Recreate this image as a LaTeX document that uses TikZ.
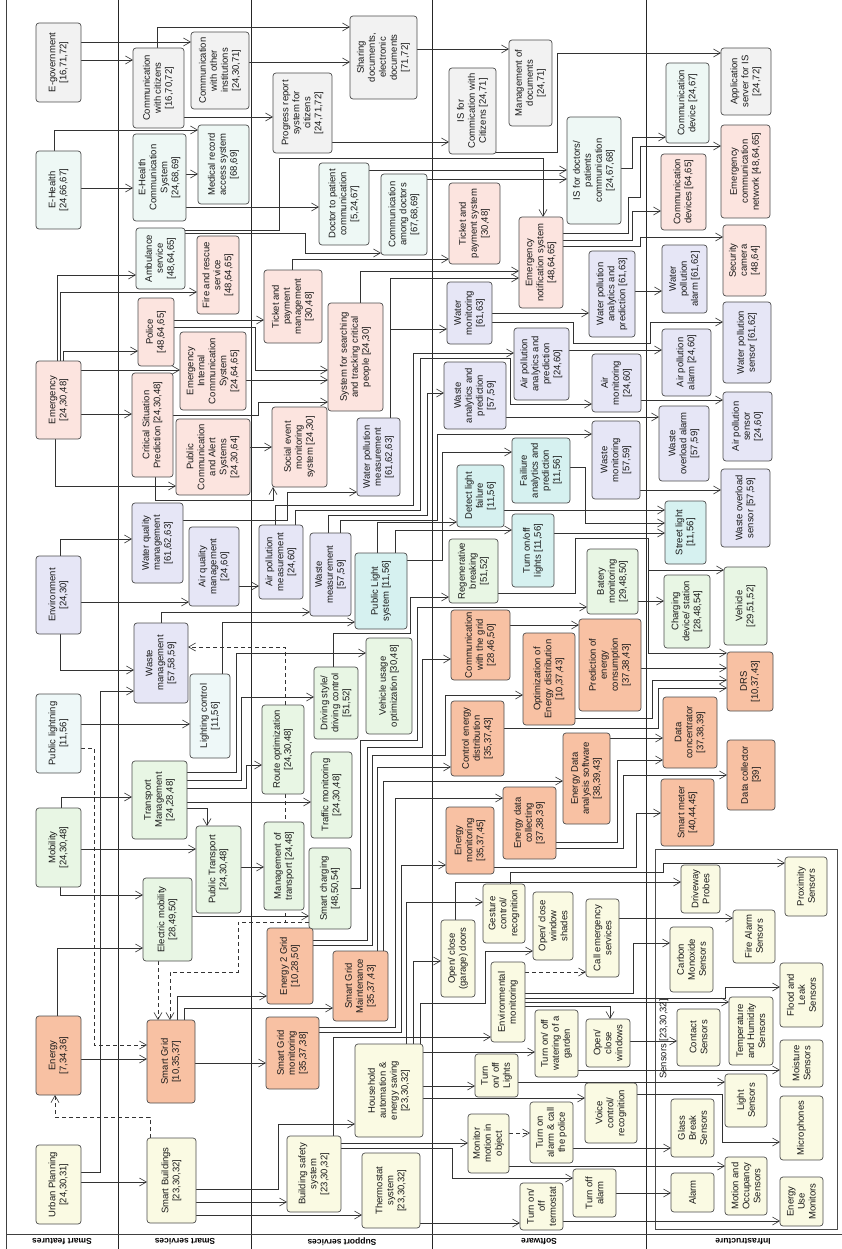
\documentclass[tikz,border=0pt]{standalone}
\usepackage{fontspec}
\setmainfont{Liberation Sans}
\usetikzlibrary{arrows.meta}
\pgfdeclarelayer{background}
\pgfsetlayers{background,main}
\definecolor{cgray}{HTML}{F2F2F2}
\definecolor{chealth}{HTML}{EEF8F5}
\definecolor{cpink}{HTML}{FCE4DF}
\definecolor{clav}{HTML}{E6E6F6}
\definecolor{clight}{HTML}{EEF8F8}
\definecolor{clight2}{HTML}{D6F1F0}
\definecolor{cgreen}{HTML}{E8F6E4}
\definecolor{corange}{HTML}{F8C1A3}
\definecolor{cyellow}{HTML}{FAFAE3}
\definecolor{cline}{HTML}{333333}
\newcommand{\bx}[7]{%
  \node[nbox,fill=#6,minimum width={#4-#2},minimum height={#5-#3}] (#1) at ({(#2+#4)/2},{(#3+#5)/2}) {};
  \node[lbl] (#1-t) at (#1.center) {#7};}
\tikzset{
  nbox/.style={draw=black!70,line width=0.7pt,rounded corners=3pt,inner sep=0pt,outer sep=0pt},
  lbl/.style={rotate=90,align=center,inner sep=0pt,text=black!90,font=\fontsize{9.5}{11}\selectfont},
  conn/.style={draw=cline,line width=0.6pt,-{Straight Barb[length=7pt,width=8pt]}},
  dconn/.style={conn,dash pattern=on 4pt off 3pt},
  lane/.style={rotate=180,font=\bfseries\fontsize{8.5}{10}\selectfont,inner sep=0pt},
}
\begin{document}
\begin{tikzpicture}[x=1pt,y=-1pt]
\useasboundingbox (0,0) rectangle (842,1249);
% ---------------- Smart features
\bx{egov}{36}{23}{81}{102}{cgray}{E-government\\{[16,71,72]}}
\bx{ehealth}{36}{151}{81}{229}{chealth}{E-Health\\{[24,66,67]}}
\bx{emerg}{36}{361}{81}{439}{cpink}{Emergency\\{[24,30,48]}}
\bx{env}{36}{556}{81}{634}{clav}{Environment\\{[24,30]}}
\bx{publight}{36}{694}{81}{773}{clight}{Public lightning\\{[11,56]}}
\bx{mobil}{36}{808}{81}{887}{cgreen}{Mobility\\{[24,30,48]}}
\bx{energy}{36}{1016}{81}{1095}{corange}{Energy\\{[7,34,36]}}
\bx{urban}{36}{1145}{81}{1224}{cyellow}{Urban Planning\\{[24,30,31]}}
% ---------------- Smart services
\bx{comcit}{133}{48}{184}{128}{cgray}{Communication\\with citizens\\{[16,70,72]}}
\bx{comoth}{191}{32}{249}{109}{cgray}{Communication\\with other\\institutions\\{[24,30,71]}}
\bx{ehcs}{133}{134}{186}{221}{chealth}{E-Health\\Communication\\System\\{[24,68,69]}}
\bx{medrec}{198}{125}{249}{204}{chealth}{Medical record\\access system\\{[68,69]}}
\bx{ambul}{136}{228}{185}{289}{chealth}{Ambulance\\service\\{[48,64,65]}}
\bx{fire}{197}{236}{239}{314}{cpink}{Fire and rescue\\service\\{[48,64,65]}}
\bx{police}{138}{298}{174}{366}{cpink}{Police\\{[48,64,65]}}
\bx{eics}{180}{332}{246}{410}{cpink}{Emergency\\Internal\\Communication\\System\\{[24,64,65]}}
\bx{crit}{132}{373}{173}{477}{cpink}{Critical Situation\\Prediction [24,30,48]}
\bx{pubcom}{176}{419}{250}{495}{cpink}{Public\\Communication\\and Alert\\Systems\\{[24,30,64]}}
\bx{waterq}{132}{503}{183}{583}{clav}{Water quality\\management\\{[61,62,63]}}
\bx{airq}{189}{527}{239}{606}{clav}{Air quality\\management\\{[24,60]}}
\bx{wastem}{134}{623}{188}{703}{clav}{Waste\\management\\{[57,58,59]}}
\bx{lightc}{190}{674}{230}{758}{clight}{Lighting control\\{[11,56]}}
\bx{transm}{132}{761}{187}{839}{cgreen}{Transport\\Management\\{[24,28,48]}}
\bx{pubtr}{196}{826}{241}{913}{cgreen}{Public Transport\\{[24,30,48]}}
\bx{elmob}{143}{878}{192}{961}{cgreen}{Electric mobility\\{[28,49,50]}}
\bx{sgrid}{147}{1020}{195}{1103}{corange}{Smart Grid\\{[10,35,37]}}
\bx{sbuild}{147}{1138}{196}{1223}{cyellow}{Smart Buildings\\{[23,30,32]}}
% ---------------- Support services
\bx{progr}{273}{73}{332}{153}{cgray}{Progress report\\system for\\citizens\\{[24,71,72]}}
\bx{share}{350}{16}{417}{99}{cgray}{Sharing\\documents,\\electronic\\documents\\{[71,72]}}
\bx{docpat}{319}{163}{369}{245}{chealth}{Doctor to patient\\communication\\{[5,24,67]}}
\bx{comdoc}{381}{174}{427}{255}{chealth}{Communication\\among doctors\\{[67,68,69]}}
\bx{ticketm}{264}{270}{322}{343}{cpink}{Ticket and\\payment\\management\\{[30,48]}}
\bx{search}{328}{303}{383}{411}{cpink}{System for searching\\and tracking critical\\people [24,30]}
\bx{social}{272}{407}{327}{487}{cpink}{Social event\\monitoring\\system [24,30]}
\bx{waterpm}{357}{418}{400}{496}{clav}{Water pollution\\measurement\\{[61,62,63]}}
\bx{airpm}{259}{525}{303}{599}{clav}{Air pollution\\measurement\\{[24,60]}}
\bx{wastemeas}{310}{533}{351}{616}{clav}{Waste\\measurement\\{[57,59]}}
\bx{plsys}{355}{553}{407}{629}{clight2}{Public Light\\system [11,56]}
\bx{route}{262}{705}{304}{794}{cgreen}{Route optimization\\{[24,30,48]}}
\bx{driving}{314}{667}{358}{739}{cgreen}{Driving style/\\driving control\\{[51,52]}}
\bx{vehus}{366}{638}{412}{734}{cgreen}{Vehicle usage\\optimization [30,48]}
\bx{traffic}{311}{752}{352}{838}{cgreen}{Traffic monitoring\\{[24,30,48]}}
\bx{mgmttr}{264}{822}{304}{910}{cgreen}{Management of\\transport [24,48]}
\bx{scharg}{309}{848}{351}{929}{cgreen}{Smart charging\\{[48,50,54]}}
\bx{e2g}{267}{928}{313}{1004}{corange}{Energy 2 Grid\\{[10,28,50]}}
\bx{sgmaint}{333}{951}{388}{1021}{corange}{Smart Grid\\Maintenance\\{[35,37,43]}}
\bx{sgmon}{266}{1017}{319}{1089}{corange}{Smart Grid\\monitoring\\{[35,37,38]}}
\bx{house}{355}{1044}{423}{1137}{cyellow}{Household\\automation \&\\energy saving\\{[23,30,32]}}
\bx{bsafe}{287}{1136}{341}{1212}{cyellow}{Building safety\\system\\{[23,30,32]}}
\bx{thermo}{362}{1153}{420}{1228}{cyellow}{Thermostat\\system\\{[23,30,32]}}
% ---------------- Software
\bx{mgmtdoc}{509}{40}{552}{126}{cgray}{Management of\\documents\\{[24,71]}}
\bx{iscit}{449}{68}{496}{154}{cgray}{IS for\\Commication with\\Citizens [24,71]}
\bx{ticks}{449}{183}{500}{264}{cpink}{Ticket and\\payment system\\{[30,48]}}
\bx{emnot}{519}{217}{563}{308}{cpink}{Emergency\\notification system\\{[48,64,65]}}
\bx{isdoc}{567}{117}{621}{224}{chealth}{IS for doctors/\\patients\\communication\\{[24,67,68]}}
\bx{watmon}{447}{282}{492}{344}{clav}{Water\\monitoring\\{[61,63]}}
\bx{watan}{589}{251}{635}{337}{clav}{Water pollution\\analytics and\\prediction [61,63]}
\bx{airan}{514}{328}{569}{400}{clav}{Air pollution\\analytics and\\prediction\\{[24,60]}}
\bx{wastan}{444}{362}{506}{429}{clav}{Waste\\analytics and\\prediction\\{[57,59]}}
\bx{airmon}{592}{354}{641}{412}{clav}{Air\\monitoring\\{[24,60]}}
\bx{wastmon}{592}{421}{640}{499}{clav}{Waste\\monitoring\\{[57,59]}}
\bx{detect}{457}{465}{504}{527}{clight2}{Detect light\\failure\\{[11,56]}}
\bx{failan}{512}{438}{570}{503}{clight2}{Failiure\\analytics and\\prediction\\{[11,56]}}
\bx{turnl}{512}{514}{554}{587}{clight2}{Turn on/off\\lights [11,56]}
\bx{regen}{449}{539}{498}{603}{cgreen}{Regenerative\\breaking\\{[51,52]}}
\bx{batery}{587}{549}{638}{614}{cgreen}{Batery\\monitoring\\{[29,48,50]}}
\bx{comgrid}{451}{610}{510}{680}{corange}{Communication\\with the grid\\{[28,46,50]}}
\bx{optim}{523}{633}{575}{725}{corange}{Optimization of\\Energy distribution\\{[10,37,43]}}
\bx{predict}{579}{619}{641}{711}{corange}{Prediction of\\energy\\consumption\\{[37,38,43]}}
\bx{control}{451}{701}{504}{776}{corange}{Control energy\\distribution\\{[35,37,43]}}
\bx{edas}{563}{733}{610}{824}{corange}{Energy Data\\analysis software\\{[38,39,43]}}
\bx{edcol}{503}{787}{556}{859}{corange}{Energy data\\collecting\\{[37,38,39]}}
\bx{emon}{446}{807}{494}{874}{corange}{Energy\\monitoring\\{[35,37,45]}}
\bx{gesture}{483}{884}{525}{943}{cyellow}{Gesture\\control/\\recognition}
\bx{shades}{533}{892}{573}{960}{cyellow}{Open/ close\\window\\shades}
\bx{garage}{441}{920}{475}{997}{cyellow}{Open/ close\\(garage) doors}
\bx{callem}{586}{899}{619}{977}{cyellow}{Call emergency\\services}
\bx{envmon}{491}{962}{525}{1042}{cyellow}{Environmental\\monitoring}
\bx{water}{535}{1010}{578}{1077}{cyellow}{Turn on/ off\\watering of a\\garden}
\bx{windows}{586}{1019}{630}{1067}{cyellow}{Open/\\close\\windows}
\bx{turnlight}{475}{1054}{518}{1097}{cyellow}{Turn\\on/ off\\Lights}
\bx{monmot}{468}{1114}{509}{1173}{cyellow}{Monitor\\motion in\\object}
\bx{alarmon}{530}{1102}{573}{1163}{cyellow}{Turn on\\alarm \& call\\the police}
\bx{voice}{585}{1083}{637}{1143}{cyellow}{Voice\\control/\\recognition}
\bx{termo}{520}{1183}{563}{1230}{cyellow}{Turn on/\\off\\termostat}
\bx{alarmoff}{573}{1169}{616}{1217}{cyellow}{Turn off\\alarm}
% ---------------- Infrastructure
\bx{appserv}{721}{48}{771}{115}{cgray}{Application\\server for IS\\{[24,72]}}
\bx{comdev}{666}{63}{709}{143}{chealth}{Communication\\device [24,67]}
\bx{emnet}{721}{125}{770}{218}{cpink}{Emergency\\communication\\network [48,64,65]}
\bx{comdevs}{661}{154}{706}{230}{cpink}{Communication\\devices [64,65]}
\bx{camera}{723}{225}{766}{296}{cpink}{Security\\camera\\{[48,64]}}
\bx{watal}{662}{245}{707}{313}{clav}{Water\\pollution\\alarm [61,62]}
\bx{watsen}{723}{302}{771}{383}{clav}{Water pollution\\sensor [61,62]}
\bx{airal}{662}{329}{711}{396}{clav}{Air pollution\\alarm [24,60]}
\bx{airsen}{723}{392}{772}{461}{clav}{Air pollution\\sensor\\{[24,60]}}
\bx{wastal}{659}{406}{709}{481}{clav}{Waste\\overload alarm\\{[57,59]}}
\bx{wastsen}{721}{469}{770}{547}{clav}{Waste overload\\sensor [57,59]}
\bx{street}{665}{501}{706}{564}{clight2}{Street light\\{[11,56]}}
\bx{vehicle}{724}{567}{767}{645}{cgreen}{Vehicle\\{[29,51,52]}}
\bx{chargdev}{664}{575}{710}{648}{cgreen}{Charging\\device/ station\\{[28,48,54]}}
\bx{drs}{727}{652}{773}{711}{corange}{DRS\\{[10,37,43]}}
\bx{dconc}{663}{697}{717}{768}{corange}{Data\\concentrator\\{[37,38,39]}}
\bx{dcoll}{727}{740}{775}{810}{corange}{Data collector\\{[39]}}
\bx{smeter}{661}{779}{714}{846}{corange}{Smart meter\\{[40,44,45]}}
\bx{driveway}{681}{865}{720}{913}{cyellow}{Driveway\\Probes}
\bx{proxim}{785}{857}{827}{916}{cyellow}{Proximity\\Sensors}
\bx{firealarm}{733}{910}{775}{963}{cyellow}{Fire Alarm\\Sensors}
\bx{carbon}{670}{927}{713}{992}{cyellow}{Carbon\\Monoxide\\Sensors}
\bx{flood}{780}{963}{823}{1027}{cyellow}{Flood and\\Leak\\Sensors}
\bx{temphum}{729}{997}{773}{1065}{cyellow}{Temperature\\and Humidity\\Sensors}
\bx{contact}{677}{1009}{720}{1066}{cyellow}{Contact\\Sensors}
\bx{moist}{780}{1040}{823}{1087}{cyellow}{Moisture\\Sensors}
\bx{lightsen}{725}{1074}{767}{1127}{cyellow}{Light\\Sensors}
\bx{glass}{671}{1099}{714}{1157}{cyellow}{Glass\\Break\\Sensors}
\bx{micro}{780}{1096}{823}{1160}{cyellow}{Microphones}
\bx{motion}{725}{1157}{767}{1215}{cyellow}{Motion and\\Occupancy\\Sensors}
\bx{alarm}{671}{1173}{714}{1212}{cyellow}{Alarm}
\bx{energyuse}{780}{1177}{823}{1226}{cyellow}{Energy\\Use\\Monitors}
% group label
\node[lbl] (sensl) at (664,1039) {Sensors [23,30,32]};
% lane labels
\node[lane] (l1) at (62,1242) {Smart features};
\node[lane] (l2) at (185,1242) {Smart services};
\node[lane] (l3) at (342,1242) {Support services};
\node[lane] (l4) at (539,1242) {Software};
\node[lane] (l5) at (743,1242) {Infrastructure};
\coordinate (j1) at (648,570);
\begin{pgfonlayer}{background}
% lanes
\draw[black!75,line width=1pt] (6,0) -- (6,1249);
\draw[black!85,line width=0.8pt] (118,0) -- (118,1249) (251,0) -- (251,1249) (432,0) -- (432,1249) (646,0) -- (646,1249);
\draw[black!75,line width=0.8pt] (6,1234) -- (842,1234);
\node[draw=black!70,line width=0.7pt,inner sep=0pt,minimum width=182,minimum height=380] (sensgrp) at (746,1039) {};
% e-government
\draw[conn] (egov.east|-0,42) -- (comoth.west|-0,42);
\draw[conn] (egov.east|-0,60) -- (comcit.west|-0,60);
\draw[conn] (comcit.north-|157,0) |- (share.west|-0,27);
\draw[conn] (comoth.east|-0,62) -- (share.west|-0,62);
\draw[conn] (comcit.east|-0,117) -- (progr.west|-0,117);
\draw[conn] (progr.east|-0,142) -- (iscit.west|-0,142);
\draw[conn] (share.east|-0,49) -- (mgmtdoc.west|-0,49);
\draw[conn] (iscit.east|-0,152) -| (557,53) -- (appserv.west|-0,53);
% e-health
\draw[conn] (ehealth.north-|54,0) |- (medrec.west|-0,130);
\draw[conn] (ehealth.east|-0,188) -- (ehcs.west|-0,188);
\draw[conn] (ehcs.east|-0,174) -- (medrec.west|-0,174);
\draw[conn] (ehcs.east|-0,207) -- (docpat.west|-0,207);
\draw[conn] (ambul.east|-0,230) -| (279,158) -| (emnot.north-|543,0);
\draw[conn] (ambul.east|-0,233) -| (305,253) -- (comdoc.west|-0,253);
\draw[conn] (docpat.east|-0,170) -- (isdoc.west|-0,170);
\draw[conn] (comdoc.east|-0,179) -- (isdoc.west|-0,179);
\draw[conn] (isdoc.east|-0,168) -| (632,137) -- (comdev.west|-0,137);
\draw[conn] (emnot.east|-0,233) -| (628,197) -| (640,146) -- (emnet.west|-0,146);
\draw[conn] (emnot.east|-0,240) -| (632,211) -- (comdevs.west|-0,211);
\draw[conn] (emnot.east|-0,246) -| (640,237) -- (camera.west|-0,237);
% emergency
\draw[conn] (emerg.north-|57,0) |- (ambul.west|-0,275);
\draw[conn] (emerg.north-|60,0) |- (fire.west|-0,292);
\draw[conn] (emerg.north-|63,0) |- (police.west|-0,351);
\draw[conn] (emerg.east|-0,370) -- (eics.west|-0,370);
\draw[conn] (emerg.east|-0,414) -- (crit.west|-0,414);
\draw[conn] (emerg.south-|55,0) |- (pubcom.west|-0,486);
\draw[conn] (police.east|-0,320) -- (ticketm.west|-0,320);
\draw[conn] (police.east|-0,327) -| (255,370) -- (search.west|-0,370);
\draw[conn] (eics.east|-0,380) -- (search.west|-0,380);
\draw[conn] (crit.east|-0,415) -| (258,402) -- (search.west|-0,402);
\draw[conn] (pubcom.east|-0,447) -- (social.west|-0,447);
\draw[conn] (crit.south-|155,0) -- (155,500) -| (social.south-|273,0);
\draw[conn] (ticketm.north-|292,0) |- (ticks.west|-0,259);
\draw[conn] (search.north-|360,0) |- (emnot.west|-0,271);
\draw[conn] (waterpm.north-|390,0) |- (emnot.west|-0,278);
\draw[conn] (waterpm.north-|390,0) |- (watmon.west|-0,329);
% environment
\draw[conn] (watmon.east|-0,313) -- (watan.west|-0,313);
\draw[conn] (watmon.east|-0,322) -- (573,322) -- (573,343) -- (650,343) -- (650,322) -- (watsen.west|-0,322);
\draw[conn] (watan.east|-0,291) -- (watal.west|-0,291);
\draw[conn] (airan.east|-0,350) -- (airal.west|-0,350);
\draw[conn] (airmon.east|-0,400) -- (airsen.west|-0,400);
\draw[conn] (wastan.east|-0,417) -- (wastal.west|-0,417);
\draw[conn] (wastmon.east|-0,490) -- (wastsen.west|-0,490);
\draw[conn] (env.north-|60,0) |- (waterq.west|-0,539);
\draw[conn] (env.east|-0,602) -- (airq.west|-0,602);
\draw[conn] (env.south-|60,0) |- (wastem.west|-0,670);
\draw[conn] (waterq.east|-0,520) -| (287,492) -- (waterpm.west|-0,492);
\draw[conn] (airq.east|-0,586) -- (airpm.west|-0,586);
\draw[conn] (wastem.north-|161,0) |- (wastemeas.west|-0,612);
\draw[conn] (airpm.north-|275,0) |- (413,505) |- (airan.west|-0,353);
\draw[conn] (airpm.north-|295,0) |- (420,510) |- (510,358) |- (airmon.west|-0,404);
\draw[conn] (wastemeas.north-|328,0) |- (427,515) |- (wastan.west|-0,393);
\draw[conn] (wastemeas.north-|340,0) |- (437,520) |- (wastmon.west|-0,434);
% lighting
\draw[conn] (plsys.north-|377,0) |- (detect.west|-0,522);
\draw[conn] (plsys.north-|395,0) |- (turnl.west|-0,530);
\draw[conn] (plsys.east|-0,560) -| (442,452) -- (failan.west|-0,452);
\draw[conn] (detect.east|-0,510) -- (street.west|-0,510);
\draw[conn] (failan.east|-0,467) -| (585,523) -- (street.west|-0,523);
\draw[conn] (turnl.east|-0,533) -- (street.west|-0,533);
\draw[conn] (lightc.north-|222,0) |- (plsys.west|-0,622);
\draw[conn] (publight.east|-0,724) -- (lightc.west|-0,724);
\draw[dconn] (publight.east|-0,748) -| (94,1045) -- (sgrid.west|-0,1045);
\draw[conn] (urban.east|-0,1172) -| (100,691) -- (wastem.west|-0,691);
% mobility
\draw[conn] (mobil.north-|61,0) |- (transm.west|-0,797);
\draw[conn] (mobil.east|-0,849) -- (pubtr.west|-0,849);
\draw[conn] (mobil.south-|60,0) |- (elmob.west|-0,895);
\draw[conn] (transm.east|-0,808) -| (pubtr.north-|207,0);
\draw[conn] (transm.east|-0,772) -| (236,653) -- (vehus.west|-0,653);
\draw[conn] (transm.east|-0,780) -| (241,697) -- (driving.west|-0,697);
\draw[conn] (transm.east|-0,788) -| (246,765) -- (route.west|-0,765);
\draw[conn] (transm.east|-0,802) -- (traffic.west|-0,802);
\draw[conn] (pubtr.east|-0,867) -- (mgmttr.west|-0,867);
\draw[conn] (elmob.east|-0,916) -- (scharg.west|-0,916);
\draw[dconn] (elmob.south-|158,0) -- (sgrid.north-|158,0);
\draw[dconn] (scharg.west|-0,922) -| (238,972) -| (sgrid.north-|170,0);
\draw[dconn] (route.north-|285,0) |- (wastem.east|-0,647);
\draw[draw=cline,line width=0.6pt,dash pattern=on 4pt off 3pt] (route.south-|285,0) -- (285,922);
\draw[conn] (driving.north-|333,0) |- (410,633) |- (regen.west|-0,597);
% energy
\draw[conn] (energy.north-|57,0) |- (elmob.west|-0,948);
\draw[conn] (energy.east|-0,1059) -- (sgrid.west|-0,1059);
\draw[dconn] (sbuild.north-|150,0) |- (55,1117) -- (energy.south-|55,0);
\draw[conn] (urban.east|-0,1182) -- (sbuild.west|-0,1182);
\draw[conn] (sgrid.north-|177,0) |- (e2g.west|-0,996);
\draw[conn] (sgrid.north-|184,0) |- (sgmaint.west|-0,1008);
\draw[conn] (sgrid.east|-0,1063) -- (sgmon.west|-0,1063);
\draw[conn] (sbuild.east|-0,1189) -| (278,1124) -- (house.west|-0,1124);
\draw[conn] (sbuild.east|-0,1202) -- (bsafe.west|-0,1202);
\draw[conn] (sbuild.east|-0,1215) -- (thermo.west|-0,1215);
\draw[conn] (e2g.east|-0,940) -| (367,747) -| (422,659) -- (comgrid.west|-0,659);
\draw[conn] (e2g.east|-0,945) -| (372,755) -| (445,695) -- (optim.west|-0,695);
\draw[conn] (scharg.east|-0,888) -| (360,740) -| (417,607) -- (batery.west|-0,607);
\draw[conn] (sgmaint.north-|377,0) |- (control.west|-0,767);
\draw[conn] (sgmaint.north-|383,0) |- (edas.west|-0,781);
\draw[conn] (sgmon.east|-0,1027) -| (395,798) -- (edcol.west|-0,798);
\draw[conn] (sgmon.east|-0,1032) -| (401,865) -- (emon.west|-0,865);
\draw[conn] (comgrid.east|-0,625) -- (predict.west|-0,625);
\draw[conn] (regen.east|-0,593) -| (575,538) -| (j1) -- (vehicle.west|-0,570);
\draw[conn] (j1) |- (drs.west|-0,653);
\draw[conn] (batery.east|-0,601) -- (chargdev.west|-0,601);
\draw[conn] (predict.east|-0,668) -- (drs.west|-0,668);
\draw[conn] (optim.east|-0,718) -| (652,680) -- (drs.west|-0,680);
\draw[conn] (control.east|-0,728) -| (658,688) -- (drs.west|-0,688);
\draw[conn] (edas.east|-0,738) -- (dconc.west|-0,738);
\draw[conn] (edcol.east|-0,842) -| (617,760) -- (dconc.west|-0,760);
\draw[conn] (edcol.east|-0,848) -| (623,775) -- (dcoll.west|-0,775);
\draw[conn] (emon.east|-0,867) -| (636,813) -- (smeter.west|-0,813);
% smart buildings software
\draw[conn] (gesture.north-|510,0) |- (663,872) |- (proxim.west|-0,863);
\draw[conn] (garage.north-|455,0) |- (driveway.west|-0,882);
\draw[conn] (callem.east|-0,918) -- (firealarm.west|-0,918);
\draw[dconn] (envmon.east|-0,972) -- (callem.west|-0,972);
\draw[conn] (envmon.east|-0,993) -| (633,943) -- (carbon.west|-0,943);
\draw[conn] (envmon.east|-0,998) -| (725,987) -- (flood.west|-0,987);
\draw[conn] (envmon.east|-0,1002) -- (temphum.west|-0,1002);
\draw[conn] (envmon.east|-0,1006) -| (windows.north-|610,0);
\draw[conn] (windows.east|-0,1041) -- (contact.west|-0,1041);
\draw[conn] (water.east|-0,1070) -- (moist.west|-0,1070);
\draw[conn] (turnlight.east|-0,1082) -- (lightsen.west|-0,1082);
\draw[conn] (voice.east|-0,1094) -| (722,1142) -- (micro.west|-0,1142);
\draw[conn] (alarmon.east|-0,1148) -- (glass.west|-0,1148);
\draw[conn] (monmot.east|-0,1166) -- (motion.west|-0,1166);
\draw[dconn] (monmot.east|-0,1133) -- (alarmon.west|-0,1133);
\draw[conn] (alarmoff.east|-0,1193) -- (alarm.west|-0,1193);
\draw[conn] (termo.east|-0,1221) -- (energyuse.west|-0,1221);
\draw[conn] (house.east|-0,1052) -- (water.west|-0,1052);
\draw[conn] (house.east|-0,1086) -- (turnlight.west|-0,1086);
\draw[conn] (house.east|-0,1098) -- (voice.west|-0,1098);
\draw[conn] (house.north-|406,0) |- (gesture.west|-0,902);
\draw[conn] (house.north-|413,0) |- (garage.west|-0,961);
\draw[conn] (house.north-|420,0) |- (485,1003) |- (shades.west|-0,951);
\draw[conn] (bsafe.north-|333,0) |- (envmon.west|-0,1037);
\draw[conn] (bsafe.east|-0,1143) -- (monmot.west|-0,1143);
\draw[conn] (bsafe.east|-0,1148) -| (452,1178) -- (alarmoff.west|-0,1178);
\draw[conn] (thermo.east|-0,1223) -- (termo.west|-0,1223);
\end{pgfonlayer}
\end{tikzpicture}
\end{document}
